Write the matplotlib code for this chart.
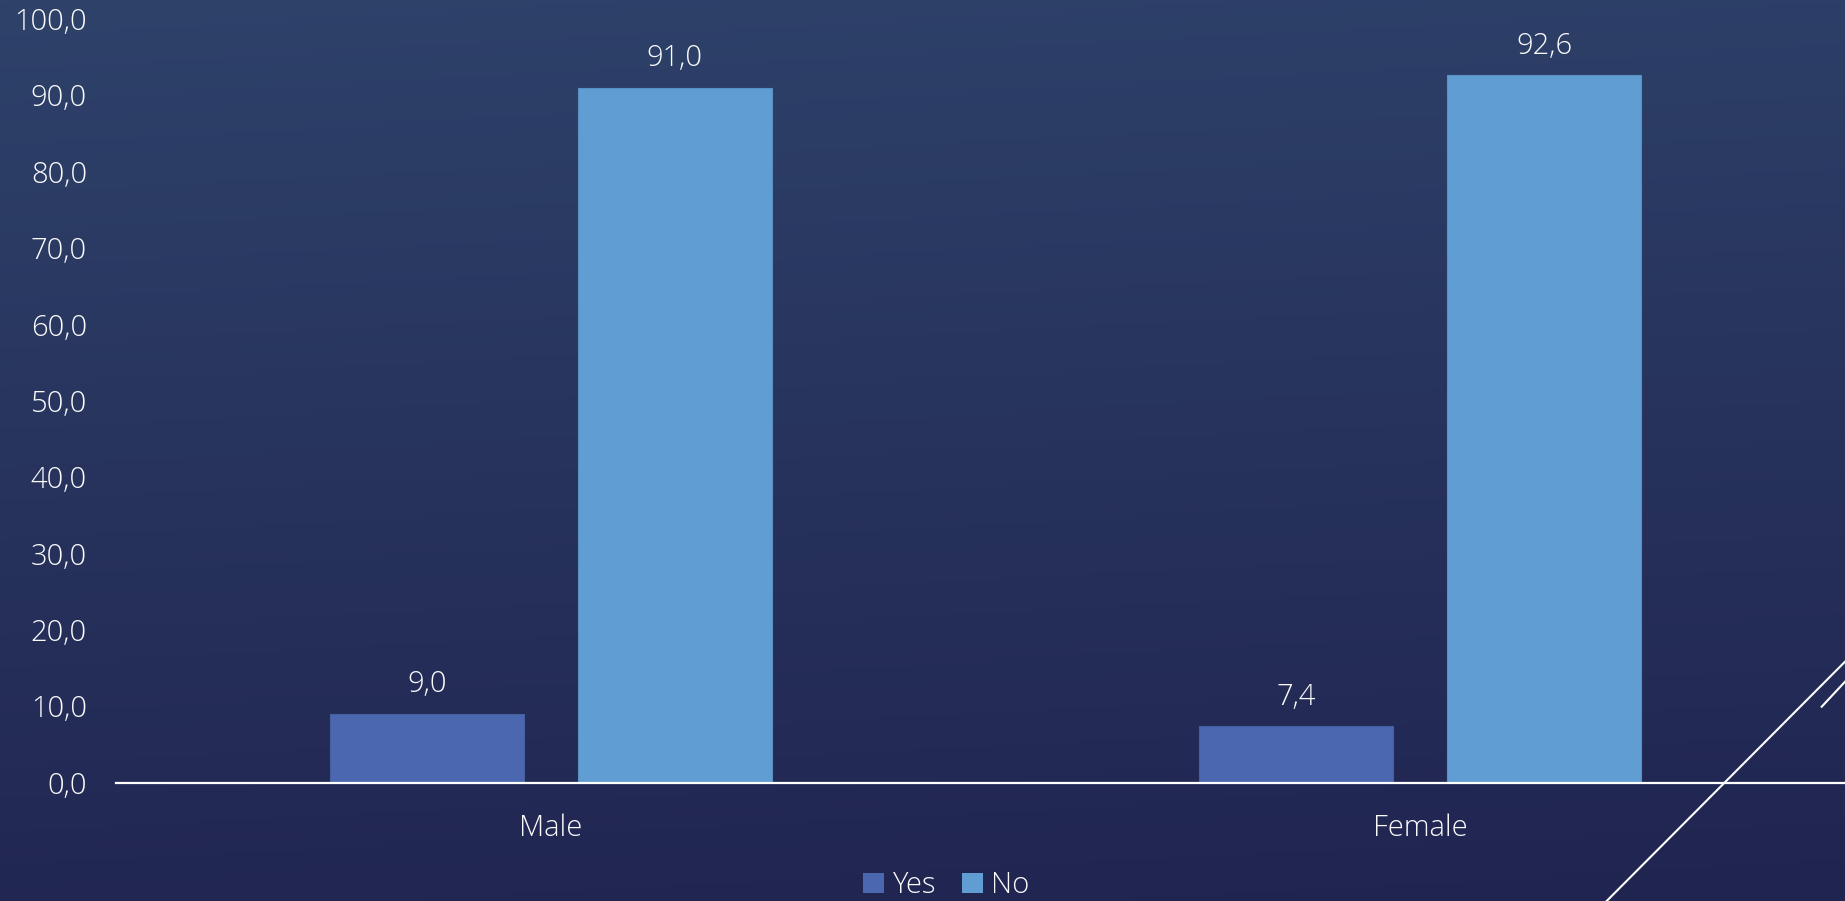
import numpy as np
import matplotlib.pyplot as plt
from matplotlib.lines import Line2D
from matplotlib.patches import Patch

# data
categories = ["Male", "Female"]
series_names = ["Yes", "No"]
yes_values = [9.0, 7.4]
no_values = [91.0, 92.6]
y_ticks = [0, 10, 20, 30, 40, 50, 60, 70, 80, 90, 100]

yes_color = "#4A67B0"
no_color = "#5F9DD2"
text_color = "#FAFAFA"

plt.rcParams["font.family"] = ["Open Sans", "DejaVu Sans"]
plt.rcParams["font.weight"] = "light"

fig = plt.figure(figsize=(18.45, 9.01), dpi=100)

# background gradient
bg = fig.add_axes([0, 0, 1, 1], zorder=-10)
yy, xx = np.mgrid[0:1:200j, 0:1:200j]
t = np.clip(yy * 0.9 + xx * 0.1, 0, 1)
top = np.array([46, 66, 106]) / 255
bottom = np.array([32, 36, 80]) / 255
img = top[None, None, :] * (1 - t[..., None]) + bottom[None, None, :] * t[..., None]
bg.imshow(img, aspect="auto", extent=[0, 1, 0, 1], origin="upper")
bg.axis("off")

ax = fig.add_axes([0.0629, 0.1315, 0.9425, 0.8476])
ax.patch.set_alpha(0)

x = np.arange(len(categories))
bar_w = 0.223
gap = 0.062
off = (bar_w + gap) / 2

bars_yes = ax.bar(x - off, yes_values, bar_w, color=yes_color, edgecolor="#44609f", linewidth=0.8)
bars_no = ax.bar(x + off, no_values, bar_w, color=no_color, edgecolor="#5890c2", linewidth=0.8)

fs = 21
for bars, vals in [(bars_yes, yes_values), (bars_no, no_values)]:
    for b, v in zip(bars, vals):
        ax.annotate(f"{v:.1f}".replace(".", ","), (b.get_x() + b.get_width() / 2, v),
                    xytext=(0, 21), textcoords="offset points", ha="center", va="center",
                    color=text_color, fontsize=fs, fontweight="light")

ax.set_xlim(-0.5, 1.5)
ax.set_ylim(0, 100)
ax.set_yticks(y_ticks)
ax.set_yticklabels([f"{v:.1f}".replace(".", ",") for v in y_ticks], color=text_color, fontsize=fs)
ax.set_xticks(x)
ax.set_xticklabels(categories, color=text_color, fontsize=fs)
ax.tick_params(axis="both", length=0)
ax.tick_params(axis="y", pad=21)
ax.tick_params(axis="x", pad=22)
for s in ["top", "right", "left"]:
    ax.spines[s].set_visible(False)
ax.spines["bottom"].set_color("white")
ax.spines["bottom"].set_linewidth(1.6)
ax.spines["bottom"].set_zorder(5)

handles = [Patch(facecolor=yes_color), Patch(facecolor=no_color)]
fig.legend(handles, series_names, loc="center", bbox_to_anchor=(0.513, 0.017), ncol=2,
           frameon=False, fontsize=fs, labelcolor=text_color, handlelength=0.7,
           handleheight=0.7, handletextpad=0.3, columnspacing=0.9, borderpad=0.1)

# decorative diagonal lines bottom right
W, H = 1845, 901
fig.add_artist(Line2D([1606.7 / W, 1.0], [0, 1 - 661.7 / H], color="white", linewidth=1.5,
                      transform=fig.transFigure))
fig.add_artist(Line2D([1821.7 / W, 1.0], [1 - 706.7 / H, 1 - 681.7 / H], color="white",
                      linewidth=1.5, transform=fig.transFigure))

fig.savefig("out.png", dpi=100)
